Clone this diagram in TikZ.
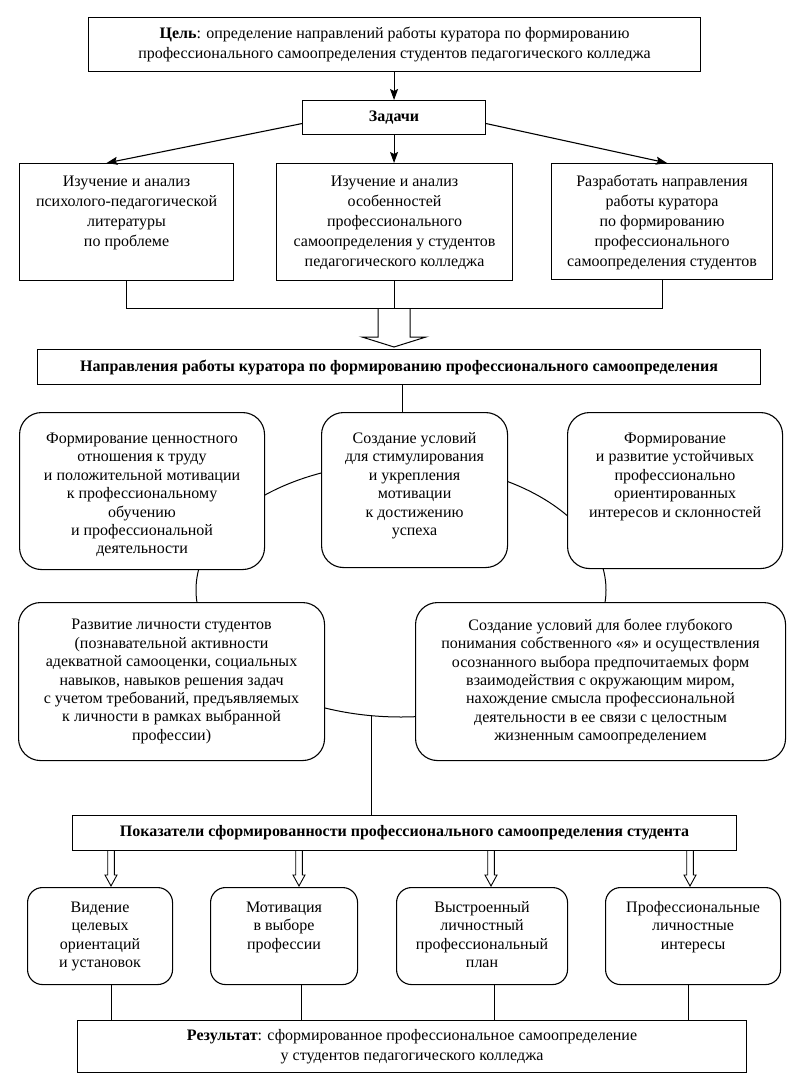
\documentclass[tikz,border=0pt]{standalone}
\usepackage{fontspec}
\setmainfont{Liberation Serif}
\usetikzlibrary{arrows.meta}
\newcommand\tbx[4]{\parbox[c][#2][t]{#1}{\centering\vspace*{#3}\strut #4\par}}
\newcommand\cbx[3]{\parbox[c][#2][c]{#1}{\centering #3\par}}
\begin{document}
\begin{tikzpicture}[x=1pt,y=-1pt,
  box/.style={draw, line width=1.1pt, inner sep=0pt, anchor=north west, fill=white, font=\fontsize{16}{20}\selectfont},
  rbox/.style={box, rounded corners=22pt, font=\fontsize{16}{18.4}\selectfont},
  sbox/.style={box, rounded corners=15pt, font=\fontsize{16}{18.4}\selectfont},
  link/.style={line width=1pt},
  thinline/.style={line width=0.6pt},
  arr/.style={line width=1.1pt, -{Stealth[length=11pt,width=8pt,inset=2pt]}}]
\useasboundingbox (0,0) rectangle (799,1087);
% ellipse behind the direction boxes
\draw[link] (401,590) ellipse [x radius=205pt, y radius=127pt];
% goal and tasks
\node[box] (goal) at (88,17) {\cbx{612pt}{54pt}{\textbf{Цель}: определение направлений работы куратора по формированию\\профессионального самоопределения студентов педагогического колледжа}};
\node[box] (tasks) at (302,100) {\cbx{183pt}{34pt}{\textbf{Задачи}}};
\node[box] (t1) at (19,163) {\tbx{214pt}{117pt}{9pt}{Изучение и анализ\\психолого-педагогической\\литературы\\по проблеме}};
\node[box] (t2) at (276,163) {\tbx{236pt}{117pt}{9pt}{Изучение и анализ\\особенностей\\профессионального\\самоопределения у студентов\\педагогического колледжа}};
\node[box] (t3) at (551,163) {\tbx{221pt}{116pt}{9pt}{Разработать направления\\работы куратора\\по формированию\\профессионального\\самоопределения студентов}};
\draw[arr] (goal.south -| tasks.north) -- (tasks.north);
\draw[arr] ([yshift=-6pt]tasks.west) -- ([xshift=-20pt]t1.north);
\draw[arr] (tasks.south) -- (tasks.south |- t2.north);
\draw[arr] ([yshift=-6pt]tasks.east) -- ([xshift=5pt]t3.north);
\coordinate (j) at (394,308);
\draw[link] (t1.south) -- (t1.south |- j) -- (t3.south |- j) -- (t3.south);
\draw[link] (t2.south) -- (t2.south |- j);
% hollow arrow
\draw[link] (378,308) -- (378,337) -- (362,337) -- (394,347) -- (426,337) -- (410,337) -- (410,308);
\node[box] (dir) at (37,349) {\cbx{723pt}{35pt}{\textbf{Направления работы куратора по формированию профессионального самоопределения}}};
% direction boxes
\node[rbox] (c1) at (19,412) {\tbx{245pt}{157pt}{18pt}{Формирование ценностного\\отношения к труду\\и положительной мотивации\\к профессиональному\\обучению\\и профессиональной\\деятельности}};
\node[rbox] (c2) at (321,412) {\tbx{186pt}{155pt}{18pt}{Создание условий\\для стимулирования\\и укрепления\\мотивации\\к достижению\\успеха}};
\node[rbox] (c3) at (567,412) {\tbx{215pt}{156pt}{18pt}{Формирование\\и развитие устойчивых\\профессионально\\ориентированных\\интересов и склонностей}};
\coordinate (m) at (402,0);
\draw[link] (dir.south -| m) -- (c2.north -| m);
\node[rbox] (d1) at (18,602) {\cbx{306pt}{158pt}{Развитие личности студентов\\(познавательной активности\\адекватной самооценки, социальных\\навыков, навыков решения задач\\с учетом требований, предъявляемых\\к личности в рамках выбранной\\профессии)}};
\node[rbox] (d2) at (415,602) {\cbx{370pt}{158pt}{Создание условий для более глубокого\\понимания собственного «я» и осуществления\\осознанного выбора предпочитаемых форм\\взаимодействия с окружающим миром,\\нахождение смысла профессиональной\\деятельности в ее связи с целостным\\жизненным самоопределением}};
% indicators
\node[box] (ind) at (72,815) {\cbx{664pt}{35pt}{\textbf{Показатели сформированности профессионального самоопределения студента}}};
\coordinate (eb) at (371,716);
\draw[link] (eb) -- (eb |- ind.north);
\foreach \x in {111,299,491,690}{
  \draw[line width=0.9pt] (\x-3.3,850) -- (\x-3.3,875) -- (\x-6,875) -- (\x,886) -- (\x+6,875) -- (\x+3.3,875) -- (\x+3.3,850);
}
\node[sbox] (e1) at (27,887) {\tbx{145pt}{97pt}{12pt}{Видение\\целевых\\ориентаций\\и установок}};
\node[sbox] (e2) at (210,887) {\tbx{147pt}{97pt}{12pt}{Мотивация\\в выборе\\профессии}};
\node[sbox] (e3) at (396,887) {\tbx{171pt}{97pt}{12pt}{Выстроенный\\личностный\\профессиональный\\план}};
\node[sbox] (e4) at (605,887) {\tbx{175pt}{97pt}{12pt}{Профессиональные\\личностные\\интересы}};
\node[box] (res) at (77,1020) {\cbx{669pt}{52pt}{\textbf{Результат}: сформированное профессиональное самоопределение\\у студентов педагогического колледжа}};
\coordinate (k1) at (111,0);
\coordinate (k2) at (301,0);
\coordinate (k3) at (494,0);
\coordinate (k4) at (688,0);
\draw[thinline] (e1.south -| k1) -- (res.north -| k1);
\draw[thinline] (e2.south -| k2) -- (res.north -| k2);
\draw[thinline] (e3.south -| k3) -- (res.north -| k3);
\draw[thinline] (e4.south -| k4) -- (res.north -| k4);
\end{tikzpicture}
\end{document}
